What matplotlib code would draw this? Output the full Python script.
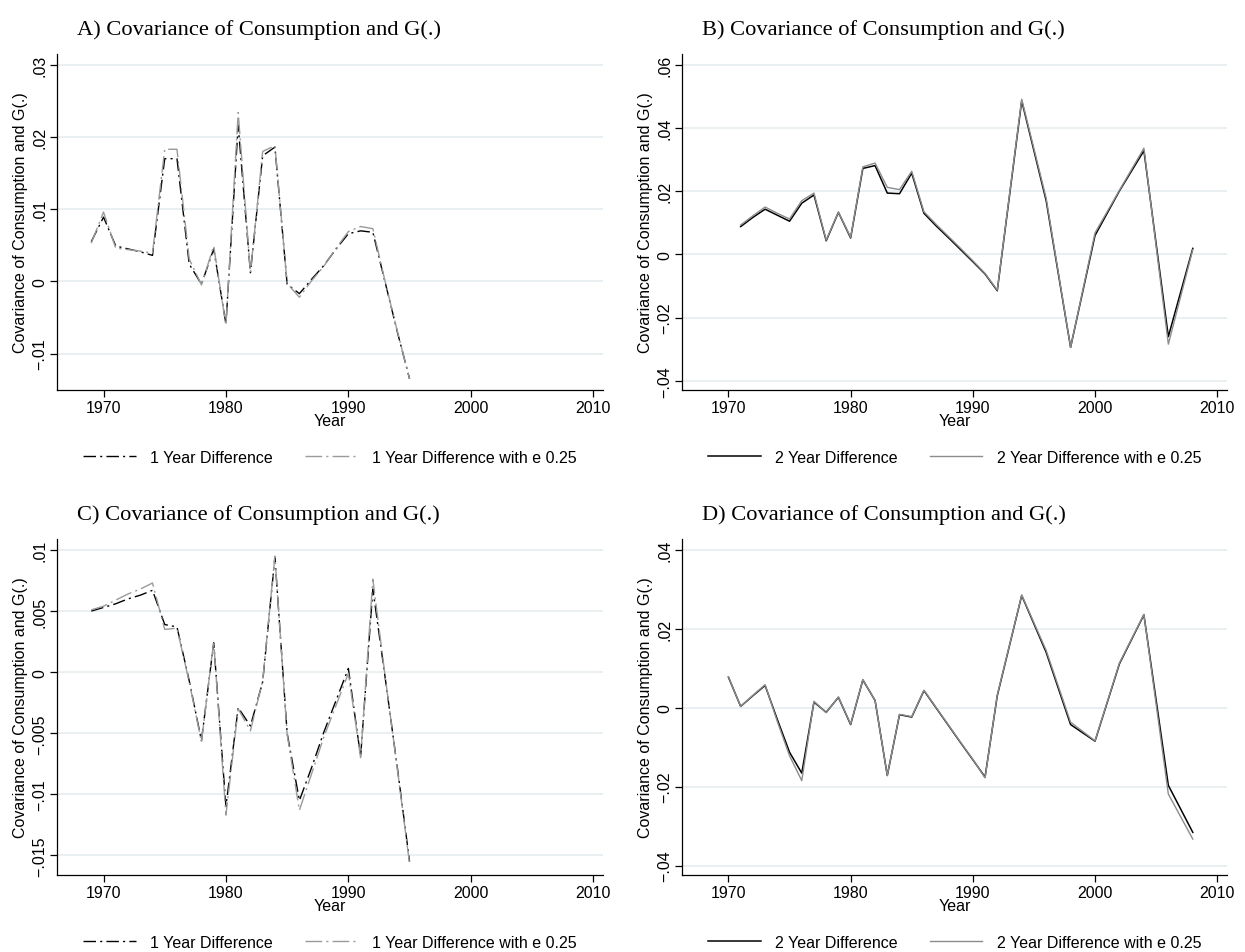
import matplotlib
matplotlib.use("Agg")
import matplotlib.pyplot as plt

plt.rcParams['font.family'] = ['Liberation Sans', 'DejaVu Sans']

# --- Daten ---
years_1y = list(range(1969, 1996))
years_2y_b = list(range(1971, 1993)) + [1994, 1996, 1998, 2000, 2002, 2004, 2006, 2008]
years_2y_d = list(range(1970, 1993)) + [1994, 1996, 1998, 2000, 2002, 2004, 2006, 2008]

a_diff = [0.0055, 0.0089, 0.0049, 0.0045, 0.0041, 0.0036, 0.0170, 0.0170, 0.0024,
          -0.0004, 0.0045, -0.0059, 0.0216, 0.0012, 0.0174, 0.0186, -0.0004, -0.0017,
          0.0003, 0.0022, 0.0045, 0.0066, 0.0070, 0.0068, -0.0001, -0.0070, -0.0135]
a_diff_e = [0.0053, 0.0096, 0.0046, 0.0044, 0.0042, 0.0039, 0.0183, 0.0183, 0.0031,
            -0.0005, 0.0049, -0.0061, 0.0234, 0.0012, 0.0180, 0.0188, -0.0003, -0.0022,
            0.0001, 0.0021, 0.0046, 0.0069, 0.0076, 0.0073, 0.0000, -0.0069, -0.0135]

b_diff = [0.0088, 0.0117, 0.0143, 0.0124, 0.0105, 0.0162, 0.0188, 0.0043, 0.0133,
          0.0052, 0.0272, 0.0281, 0.0194, 0.0192, 0.0257, 0.0130, 0.0090, 0.0053,
          0.0015, -0.0023, -0.0062, -0.0115, 0.0486, 0.0170, -0.0294, 0.0060, 0.0201,
          0.0328, -0.0260, 0.0019]
b_diff_e = [0.0093, 0.0122, 0.0150, 0.0130, 0.0112, 0.0170, 0.0194, 0.0045, 0.0134,
            0.0054, 0.0277, 0.0289, 0.0212, 0.0205, 0.0263, 0.0135, 0.0095, 0.0057,
            0.0019, -0.0020, -0.0060, -0.0113, 0.0491, 0.0178, -0.0294, 0.0068, 0.0203,
            0.0336, -0.0284, 0.0015]

c_diff = [0.0050, 0.0053, 0.0056, 0.0060, 0.0063, 0.0067, 0.0039, 0.0037, -0.0007,
          -0.0056, 0.0024, -0.0110, -0.0029, -0.0044, -0.0008, 0.0094, -0.0050, -0.0105,
          -0.0078, -0.0049, -0.0023, 0.0003, -0.0069, 0.0068, -0.0004, -0.0078, -0.0155]
c_diff_e = [0.0051, 0.0054, 0.0059, 0.0064, 0.0068, 0.0073, 0.0035, 0.0036, -0.0008,
            -0.0057, 0.0025, -0.0117, -0.0030, -0.0048, -0.0007, 0.0095, -0.0051, -0.0113,
            -0.0083, -0.0053, -0.0027, -0.0001, -0.0070, 0.0076, -0.0003, -0.0079, -0.0157]

d_diff = [0.0077, 0.0003, 0.0030, 0.0056, -0.0030, -0.0113, -0.0166, 0.0014, -0.0012,
          0.0026, -0.0043, 0.0070, 0.0018, -0.0172, -0.0018, -0.0024, 0.0043, -0.0001,
          -0.0045, -0.0089, -0.0132, -0.0176, 0.0030, 0.0284, 0.0140, -0.0043, -0.0085,
          0.0111, 0.0235, -0.0197, -0.0316]
d_diff_e = [0.0078, 0.0003, 0.0031, 0.0058, -0.0035, -0.0122, -0.0185, 0.0016, -0.0013,
            0.0027, -0.0042, 0.0071, 0.0018, -0.0172, -0.0017, -0.0023, 0.0044, 0.0000,
            -0.0044, -0.0088, -0.0131, -0.0178, 0.0032, 0.0285, 0.0145, -0.0037, -0.0084,
            0.0113, 0.0236, -0.0219, -0.0333]

titles = ['A) Covariance of Consumption and G(.)', 'B) Covariance of Consumption and G(.)',
          'C) Covariance of Consumption and G(.)', 'D) Covariance of Consumption and G(.)']
yticks_a = [-0.01, 0, 0.01, 0.02, 0.03]
yticks_b = [-0.04, -0.02, 0, 0.02, 0.04, 0.06]
yticks_c = [-0.015, -0.01, -0.005, 0, 0.005, 0.01]
yticks_d = [-0.04, -0.02, 0, 0.02, 0.04]
xticks = [1970, 1980, 1990, 2000, 2010]


def stata_fmt(v):
    # Stata-Stil: ".01", "0", "−.005"
    if abs(v) < 1e-12:
        return '0'
    s = f'{abs(v):g}'.lstrip('0')
    return ('\u2212' if v < 0 else '') + s


W, H = 1245, 953
fig = plt.figure(figsize=(W / 100, H / 100), dpi=100)

# Achsenpositionen in Pixeln: links, oben, rechts, unten
panels = [
    (57, 55, 603, 391, titles[0], years_1y, a_diff, a_diff_e, yticks_a, (-0.01505, 0.0315), '1'),
    (682, 55, 1227, 391, titles[1], years_2y_b, b_diff, b_diff_e, yticks_b, (-0.0429, 0.0634), '2'),
    (57, 540, 603, 876, titles[2], years_1y, c_diff, c_diff_e, yticks_c, (-0.0166, 0.0109), '1'),
    (682, 540, 1227, 876, titles[3], years_2y_d, d_diff, d_diff_e, yticks_d, (-0.0424, 0.0427), '2'),
]

for (l, t, r, b, title, yrs, y1, y2, yt, ylim, kind) in panels:
    ax = fig.add_axes([l / W, 1 - b / H, (r - l) / W, (b - t) / H])
    for v in yt:
        ax.axhline(v, color='#e8eff1', lw=1.3, zorder=0)
    if kind == '1':
        ax.plot(yrs, y1, color='black', lw=1.0, dashes=(9, 3, 1.5, 3),
                label='1 Year Difference')
        ax.plot(yrs, y2, color='#9a9a9a', lw=1.0, dashes=(12, 3, 1.5, 3),
                label='1 Year Difference with e 0.25')
    else:
        ax.plot(yrs, y1, color='black', lw=1.1, label='2 Year Difference')
        ax.plot(yrs, y2, color='#8c8c8c', lw=1.0, label='2 Year Difference with e 0.25')

    ax.set_xlim(1966.2, 2010.8)
    ax.set_ylim(*ylim)
    ax.set_xticks(xticks)
    ax.set_yticks(yt)
    ax.set_yticklabels([stata_fmt(v) for v in yt], rotation=90, va='center')
    ax.tick_params(direction='out', length=5, width=0.9, labelsize=11.5, pad=2)
    for s in ['top', 'right']:
        ax.spines[s].set_visible(False)
    for s in ['left', 'bottom']:
        ax.spines[s].set_linewidth(0.9)
    ax.set_xlabel('Year', fontsize=11.5, labelpad=-1)
    ax.set_ylabel('Covariance of Consumption and G(.)', fontsize=11.5, labelpad=3)

    ax.legend(loc='center', bbox_to_anchor=(0.5, -0.2), ncol=2, frameon=False,
              fontsize=11.5, handlelength=3.3, columnspacing=2.0, handletextpad=0.9)

    fig.text((l + 20) / W, 1 - (t - 25) / H, title, fontsize=16.2,
             family=['Liberation Serif', 'DejaVu Serif'], va='center', ha='left')

fig.savefig('out.png', dpi=100)
